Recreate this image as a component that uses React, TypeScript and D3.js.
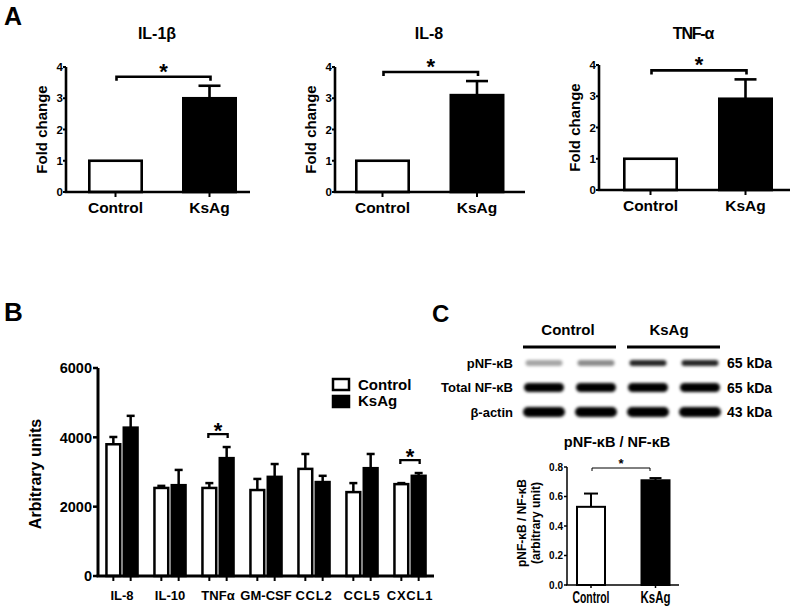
import React from 'react';
import * as d3 from 'd3';

// ---------- DATA ----------
const groups = ['Control', 'KsAg'];

const panelATitles = ['IL-1β', 'IL-8', 'TNF-α'];
const panelAMeans = [[1, 3.0], [1, 3.1], [1, 2.92]];
const panelAErrors = [[0, 0.4], [0, 0.45], [0, 0.62]];
const panelATicks = [0, 1, 2, 3, 4];

const cytokines = ['IL-8', 'IL-10', 'TNFα', 'GM-CSF', 'CCL2', 'CCL5', 'CXCL1'];
const controlMeans = [3800, 2540, 2540, 2480, 3090, 2420, 2650];
const controlErrors = [210, 60, 140, 320, 430, 260, 30];
const ksagMeans = [4280, 2620, 3400, 2860, 2710, 3110, 2890];
const ksagErrors = [340, 440, 320, 370, 180, 410, 80];
const panelBTicks = [0, 2000, 4000, 6000];
const panelBSignificant = ['TNFα', 'CXCL1'];

const blotRows = ['pNF-κB', 'Total NF-κB', 'β-actin'];
const blotKda = ['65 kDa', '65 kDa', '43 kDa'];
const blotLanes = [0, 1, 2, 3];
const blotIntensity = [
  [0.35, 0.45, 0.85, 0.85],
  [1, 1, 1, 1],
  [1, 1, 1, 1],
];
const ratioMeans = [0.53, 0.71];
const ratioErrors = [0.09, 0.015];
const ratioTicks = [0, 0.2, 0.4, 0.6, 0.8];

// ---------- STYLE ----------
const FONT = '"Liberation Sans", Arial, Helvetica, sans-serif';

function bracketPath(x1: number, x2: number, y: number, t: number) {
  const p = d3.path();
  p.moveTo(x1, y + t);
  p.lineTo(x1, y);
  p.lineTo(x2, y);
  p.lineTo(x2, y + t);
  return p.toString();
}

const aLayouts = [
  { axisX: 66, axisEnd: 250, y0: 192, yTop: 67, c0: 115.5, c1: 209.5, titleX: 157 },
  { axisX: 335, axisEnd: 525, y0: 192, yTop: 67, c0: 382.5, c1: 477, titleX: 429 },
  { axisX: 599, axisEnd: 790, y0: 190, yTop: 65, c0: 650.5, c1: 745.5, titleX: 693 },
];

function FoldPanel({ i }: { i: number }) {
  const L = aLayouts[i];
  const y = d3.scaleLinear().domain([0, 4]).range([L.y0, L.yTop]);
  const x = d3.scalePoint<string>().domain(groups).range([L.c0, L.c1]);
  const bw = 55;
  const means = panelAMeans[i];
  const errs = panelAErrors[i];
  const topVal = d3.max(means.map((m, k) => m + errs[k])) as number;
  const by = y(topVal) - 9;
  const sw = 2.6;
  return (
    <g>
      <text x={L.titleX} y={39} textAnchor="middle" fontSize={16} fontWeight="bold"
        letterSpacing={i === 2 ? -1.2 : 0}>{panelATitles[i]}</text>
      {groups.map((g, k) => (
        <g key={g}>
          {errs[k] > 0 && (
            <g stroke="#000" strokeWidth={sw}>
              <line x1={x(g)} x2={x(g)} y1={y(means[k])} y2={y(means[k] + errs[k])} />
              <line x1={(x(g) as number) - 11} x2={(x(g) as number) + 11}
                y1={y(means[k] + errs[k])} y2={y(means[k] + errs[k])} />
            </g>
          )}
          <rect x={(x(g) as number) - bw / 2 + sw / 2} y={y(means[k])}
            width={bw - sw} height={y(0) - y(means[k])}
            fill={k === 0 ? '#fff' : '#000'} stroke="#000" strokeWidth={sw} />
        </g>
      ))}
      <path d={bracketPath((x('Control') as number) + 1, (x('KsAg') as number) + 1, by, 4)}
        fill="none" stroke="#000" strokeWidth={sw} />
      <text x={((x('Control') as number) + (x('KsAg') as number)) / 2 + 1} y={by + 2}
        textAnchor="middle" fontSize={22} fontWeight="bold">*</text>
      {/* axes */}
      <line x1={L.axisX} x2={L.axisX} y1={y(4)} y2={y(0)} stroke="#000" strokeWidth={sw} />
      <line x1={L.axisX - 1.3} x2={L.axisEnd} y1={y(0)} y2={y(0)} stroke="#000" strokeWidth={sw} />
      {panelATicks.map(t => (
        <g key={t}>
          <line x1={L.axisX - 3} x2={L.axisX} y1={y(t)} y2={y(t)} stroke="#000" strokeWidth={2} />
          <text x={L.axisX - 3} y={y(t)} dy="0.36em" textAnchor="end" fontSize={11.5} fontWeight="bold">{t}</text>
        </g>
      ))}
      {groups.map(g => (
        <g key={g}>
          <line x1={x(g)} x2={x(g)} y1={y(0)} y2={y(0) + 5} stroke="#000" strokeWidth={2} />
          <text x={x(g)} y={y(0) + 21} textAnchor="middle" fontSize={15.5} fontWeight="bold">{g}</text>
        </g>
      ))}
      <text transform={`translate(${L.axisX - 19},${(y(0) + y(4)) / 2}) rotate(-90)`}
        textAnchor="middle" fontSize={15} fontWeight="bold">Fold change</text>
    </g>
  );
}

function PanelB() {
  const y = d3.scaleLinear().domain([0, 6000]).range([576, 368]);
  const x = d3.scaleBand<string>().domain(cytokines).range([98, 434]).paddingInner(0.3).paddingOuter(0.15);
  const xi = d3.scaleBand<string>().domain(groups).range([0, x.bandwidth()]).paddingInner(0.06);
  const sw = 2.5;
  const series = [
    { means: controlMeans, errs: controlErrors, fill: '#fff' },
    { means: ksagMeans, errs: ksagErrors, fill: '#000' },
  ];
  return (
    <g>
      {cytokines.map((c, ci) => (
        <g key={c} transform={`translate(${x(c)},0)`}>
          {groups.map((g, k) => {
            const s = series[k];
            const bx = xi(g) as number;
            const cx = bx + xi.bandwidth() / 2;
            const top = y(s.means[ci] + s.errs[ci]);
            return (
              <g key={g}>
                <line x1={cx} x2={cx} y1={y(s.means[ci])} y2={top} stroke="#000" strokeWidth={sw} />
                <line x1={cx - 4} x2={cx + 4} y1={top} y2={top} stroke="#000" strokeWidth={sw} />
                <rect x={bx + sw / 2} y={y(s.means[ci])} width={xi.bandwidth() - sw}
                  height={y(0) - y(s.means[ci])} fill={s.fill} stroke="#000" strokeWidth={sw} />
                <line x1={cx} x2={cx} y1={y(0)} y2={y(0) + 5} stroke="#000" strokeWidth={2} />
              </g>
            );
          })}
          {panelBSignificant.includes(c) && (() => {
            const c0 = (xi('Control') as number) + xi.bandwidth() / 2;
            const c1 = (xi('KsAg') as number) + xi.bandwidth() / 2;
            const topv = Math.max(controlMeans[ci] + controlErrors[ci], ksagMeans[ci] + ksagErrors[ci]);
            const by = y(topv) - 13;
            return (
              <g>
                <path d={bracketPath(c0 - 1, c1 + 1, by, 4)} fill="none" stroke="#000" strokeWidth={2.3} />
                <text x={(c0 + c1) / 2} y={by + 4} textAnchor="middle" fontSize={22} fontWeight="bold">*</text>
              </g>
            );
          })()}
          <text x={x.bandwidth() / 2} y={600} textAnchor="middle" fontSize={13} fontWeight="bold"
            letterSpacing={c.startsWith('CC') || c.startsWith('CX') ? 0.8 : 0}>{c}</text>
        </g>
      ))}
      <line x1={98} x2={98} y1={y(6000)} y2={y(0)} stroke="#000" strokeWidth={3} />
      <line x1={96.5} x2={434} y1={y(0)} y2={y(0)} stroke="#000" strokeWidth={3} />
      {panelBTicks.map(t => (
        <g key={t}>
          <line x1={93} x2={98} y1={y(t)} y2={y(t)} stroke="#000" strokeWidth={2.5} />
          <text x={92} y={y(t)} dy="0.36em" textAnchor="end" fontSize={14.5} fontWeight="bold">{t}</text>
        </g>
      ))}
      <text transform={`translate(41,${(y(0) + y(6000)) / 2 + 2}) rotate(-90)`} textAnchor="middle"
        fontSize={16} fontWeight="bold">Arbitrary units</text>
      {/* legend */}
      {groups.map((g, k) => (
        <g key={g}>
          <rect x={333} y={379 + k * 17} width={16} height={11} fill={k === 0 ? '#fff' : '#000'}
            stroke="#000" strokeWidth={2.5} />
          <text x={358} y={390 + k * 16} fontSize={15} fontWeight="bold">{g}</text>
        </g>
      ))}
    </g>
  );
}

function PanelC() {
  const laneX = d3.scalePoint<number>().domain(blotLanes).range([544, 700]);
  const rowY = d3.scalePoint<string>().domain(blotRows).range([363, 412]);
  const bandW = [37, 40, 42];
  const bandH = [6, 9, 10];
  const y = d3.scaleLinear().domain([0, 0.8]).range([585, 467]);
  const x = d3.scalePoint<string>().domain(groups).range([591, 655.5]);
  const bw = 30;
  return (
    <g>
      <defs>
        <filter id="blur" x="-20%" y="-100%" width="140%" height="300%">
          <feGaussianBlur stdDeviation="1.7" />
        </filter>
      </defs>
      <text x={568} y={335} textAnchor="middle" fontSize={15} fontWeight="bold">Control</text>
      <text x={669} y={335} textAnchor="middle" fontSize={15} fontWeight="bold">KsAg</text>
      <line x1={523} x2={616} y1={347} y2={347} stroke="#000" strokeWidth={3} />
      <line x1={627} x2={720} y1={347} y2={347} stroke="#000" strokeWidth={3} />
      {blotRows.map((r, ri) => (
        <g key={r}>
          <text x={513} y={(rowY(r) as number) + 4.5} textAnchor="end" fontSize={13} fontWeight="bold">{r}</text>
          <text x={727} y={(rowY(r) as number) + 5} fontSize={14} fontWeight="bold">{blotKda[ri]}</text>
          <g filter="url(#blur)">
            {blotLanes.map(l => (
              <rect key={l} x={(laneX(l) as number) - bandW[ri] / 2} y={(rowY(r) as number) - bandH[ri] / 2}
                width={bandW[ri]} height={bandH[ri]} rx={bandH[ri] / 2}
                fill="#000" fillOpacity={blotIntensity[ri][l]} />
            ))}
          </g>
        </g>
      ))}
      {/* ratio chart */}
      <text x={617} y={447} textAnchor="middle" fontSize={14.5} fontWeight="bold">pNF-κB / NF-κB</text>
      {groups.map((g, k) => {
        const cx = x(g) as number;
        const top = y(ratioMeans[k] + ratioErrors[k]);
        return (
          <g key={g}>
            <line x1={cx} x2={cx} y1={y(ratioMeans[k])} y2={top} stroke="#000" strokeWidth={2} />
            <line x1={cx - (k === 0 ? 7 : 6)} x2={cx + (k === 0 ? 7 : 6)} y1={top} y2={top} stroke="#000" strokeWidth={2} />
            <rect x={cx - bw / 2 + 1} y={y(ratioMeans[k])} width={bw - 2} height={y(0) - y(ratioMeans[k])}
              fill={k === 0 ? '#fff' : '#000'} stroke="#000" strokeWidth={2} />
            <line x1={cx} x2={cx} y1={y(0)} y2={y(0) + 3} stroke="#000" strokeWidth={1.5} />
            <text x={cx} y={603} textAnchor="middle" fontSize={16.5} fontWeight="bold"
              textLength={k === 0 ? 37 : 30} lengthAdjust="spacingAndGlyphs">{g}</text>
          </g>
        );
      })}
      <path d={bracketPath(592, 650, 468, 3)} fill="none" stroke="#000" strokeWidth={1} />
      <text x={621} y={468} textAnchor="middle" fontSize={13} fontWeight="bold">*</text>
      <line x1={567} x2={567} y1={y(0.8)} y2={y(0)} stroke="#000" strokeWidth={1.5} />
      <line x1={566} x2={679} y1={y(0)} y2={y(0)} stroke="#000" strokeWidth={1.5} />
      {ratioTicks.map(t => (
        <g key={t}>
          <line x1={564} x2={567} y1={y(t)} y2={y(t)} stroke="#000" strokeWidth={1.5} />
          <text x={563} y={y(t)} dy="0.36em" textAnchor="end" fontSize={10} fontWeight="bold">{t.toFixed(1)}</text>
        </g>
      ))}
      <text transform={`translate(526,523) rotate(-90)`} textAnchor="middle" fontSize={12} fontWeight="bold">pNF-κB / NF-κB</text>
      <text transform={`translate(540,523) rotate(-90)`} textAnchor="middle" fontSize={12} fontWeight="bold">(arbitrary unit)</text>
    </g>
  );
}

export default function App() {
  return (
    <svg width={793} height={608} style={{ position: 'absolute', left: 0, top: 0, background: '#fff' }}
      fontFamily={FONT} fill="#000">
      <text x={4} y={25} fontSize={25} fontWeight="bold">A</text>
      <text x={4} y={321} fontSize={26} fontWeight="bold">B</text>
      <text x={432} y={322} fontSize={24} fontWeight="bold">C</text>
      {aLayouts.map((_, i) => <FoldPanel key={i} i={i} />)}
      <PanelB />
      <PanelC />
    </svg>
  );
}
